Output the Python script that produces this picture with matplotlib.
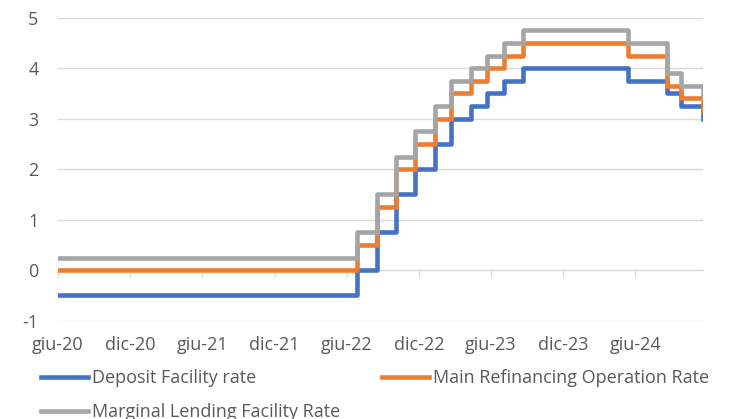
import pandas as pd
import matplotlib
matplotlib.use("Agg")
import matplotlib.pyplot as plt

plt.rcParams["font.family"] = ["Open Sans", "DejaVu Sans"]
plt.rcParams["axes.unicode_minus"] = False

# ECB policy rate changes (date the new rate applies)
dates = ["2020-06-30", "2022-07-27", "2022-09-14", "2022-11-02", "2022-12-21",
         "2023-02-08", "2023-03-22", "2023-05-10", "2023-06-21", "2023-08-02",
         "2023-09-20", "2024-06-12", "2024-09-18", "2024-10-23", "2024-12-18"]
deposit = [-0.5, 0.0, 0.75, 1.5, 2.0, 2.5, 3.0, 3.25, 3.5, 3.75, 4.0, 3.75, 3.5, 3.25, 3.0]
main_refi = [0.0, 0.5, 1.25, 2.0, 2.5, 3.0, 3.5, 3.75, 4.0, 4.25, 4.5, 4.25, 3.65, 3.4, 3.15]
marginal = [0.25, 0.75, 1.5, 2.25, 2.75, 3.25, 3.75, 4.0, 4.25, 4.5, 4.75, 4.5, 3.9, 3.65, 3.4]

tick_dates = ["2020-06-30", "2020-12-30", "2021-06-30", "2021-12-30", "2022-06-30",
              "2022-12-30", "2023-06-30", "2023-12-30", "2024-06-30"]
tick_labels = ["giu-20", "dic-20", "giu-21", "dic-21", "giu-22",
               "dic-22", "giu-23", "dic-23", "giu-24"]

x = pd.to_datetime(dates)
ticks = pd.to_datetime(tick_dates)

fig = plt.figure(figsize=(7.31, 4.19), dpi=100)
ax = fig.add_axes([58 / 731, 1 - 320.7 / 419, 645 / 731, 303 / 419])

text_color = "#595959"
grid_color = "#d9d9d9"

l1, = ax.step(x, deposit, where="post", color="#4472C4", lw=3.3, label="Deposit Facility rate")
l2, = ax.step(x, main_refi, where="post", color="#ED7D31", lw=3.3, label="Main Refinancing Operation Rate")
l3, = ax.step(x, marginal, where="post", color="#A5A5A5", lw=3.3, label="Marginal Lending Facility Rate")

ax.set_xlim(x[0], x[-1])
ax.set_ylim(-1, 5)
ax.set_yticks(range(-1, 6))
ax.set_yticklabels([str(v) for v in range(-1, 6)])
ax.set_xticks(ticks)
ax.set_xticklabels(tick_labels)

ax.grid(axis="y", color=grid_color, lw=1)
ax.set_axisbelow(True)
for s in ax.spines.values():
    s.set_visible(False)
ax.tick_params(axis="both", length=0, labelsize=13, colors=text_color)
ax.tick_params(axis="y", pad=14)
ax.tick_params(axis="x", pad=11)

# horizontal axis line with tick marks sits at zero
sec = ax.secondary_xaxis(1 / 6)
sec.set_xticks(ticks)
sec.set_xticklabels([])
sec.tick_params(length=5, width=1, color=grid_color, direction="out")
sec.spines["bottom"].set_color(grid_color)

# order so the rows read: Deposit | Main, then Marginal
leg = fig.legend([l1, l3, l2], [l1.get_label(), l3.get_label(), l2.get_label()],
                 loc="upper left", bbox_to_anchor=(41 / 731, 1 - 369 / 419), ncol=2,
                 frameon=False, fontsize=13, handlelength=2.6, handletextpad=0.22,
                 columnspacing=2.3, labelspacing=0.9, borderaxespad=0, borderpad=0)
for t in leg.get_texts():
    t.set_color(text_color)

fig.savefig("out.png", dpi=100)
